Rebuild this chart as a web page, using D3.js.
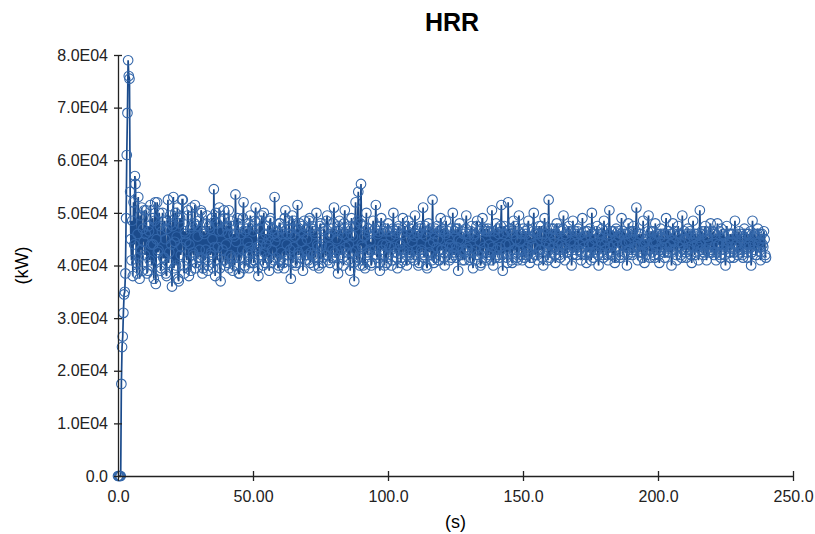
<!DOCTYPE html>
<html>
<head>
<meta charset="utf-8">
<script src="https://cdn.jsdelivr.net/npm/d3@7"></script>
<style>
  body { margin: 0; background: #fff; }
  text { font-family: "Liberation Sans", Arial, sans-serif; }
</style>
</head>
<body>
<div id="chart"></div>
<script>
// HRR output, sampled every 0.25 s from 0 to 240 s (kW)
const dt = 0.25;
const hrr = [
  0, 0, 0, 0, 0, 17500, 24500, 26500, 31000, 34500, 35000, 38500, 49000, 61000, 69000, 79000, 76000, 75500, 54000, 45000,
  41000, 48500, 38000, 52000, 44000, 57000, 55500, 40500, 38500, 46000, 53000, 41500, 37500, 49500, 43000, 51000, 39000, 47000, 44500, 50500,
  42000, 46000, 50500, 38500, 39000, 47500, 46500, 41000, 51500, 44000, 40000, 49000, 44000, 37500, 48500, 52000, 36500, 45000, 52000, 42500,
  43000, 50000, 47500, 39000, 39500, 46500, 50000, 41500, 41500, 48500, 45000, 38500, 38000, 47000, 52500, 40500, 42500, 49500, 48000, 44000,
  36000, 47500, 53000, 39500, 44500, 50000, 40000, 45500, 51000, 37500, 37000, 48000, 49000, 42000, 43500, 52500, 52500, 40000, 38500, 46500,
  46000, 44500, 41000, 49500, 50500, 38000, 44000, 47000, 39000, 51000, 47500, 42500, 42000, 48000, 51500, 39500, 40500, 47500, 45500, 41500,
  48500, 43000, 41500, 50500, 50000, 38500, 39500, 46500, 46000, 41000, 43000, 48000, 49500, 39000, 40000, 47500, 47000, 42000, 42500, 49000,
  45000, 39500, 54500, 43500, 38000, 50000, 48000, 41000, 43500, 46500, 51000, 39500, 37000, 48500, 46500, 43000, 41000, 50500, 49000, 40000,
  44000, 47500, 40500, 46000, 50500, 39500, 42000, 48500, 47500, 41500, 39000, 46000, 45500, 40000, 53500, 44500, 41500, 49000, 48000, 38500,
  38500, 47000, 46000, 41500, 43000, 49000, 52000, 39500, 40000, 46500, 47000, 42500, 44500, 48000, 39500, 43500, 49500, 40500, 42500, 47500,
  46500, 40500, 41000, 48500, 51000, 43000, 43500, 39500, 38000, 47000, 48500, 44000, 42000, 49500, 45000, 40000, 50000, 42500, 40500, 46000,
  44000, 41500, 47500, 45000, 39000, 48500, 49000, 40500, 43000, 47000, 46000, 41000, 53000, 44500, 41500, 46500, 45500, 39500, 40000, 48000,
  48000, 41000, 42500, 47000, 46000, 40500, 39500, 49000, 50500, 42000, 44000, 46000, 41000, 48500, 47000, 43000, 37500, 46000, 49500, 40500,
  43500, 48500, 45500, 40000, 40500, 47000, 51500, 42500, 42000, 48000, 46500, 41500, 44500, 47500, 39000, 46000, 48500, 41000, 43000, 47000,
  45000, 42000, 41000, 48500, 49000, 40500, 42500, 47000, 47500, 42000, 40000, 46500, 46000, 41500, 50000, 44000, 43500, 40000, 39500, 47500,
  48000, 43500, 44000, 40500, 41500, 47000, 46500, 42000, 42000, 48500, 49500, 41000, 45500, 43500, 40500, 46000, 47000, 41500, 43000, 48000,
  51000, 42500, 41500, 46500, 45000, 40000, 38500, 47500, 48500, 42000, 43000, 47000, 46000, 41500, 40000, 48000, 50500, 43500, 42500, 45500,
  47000, 41000, 44000, 47500, 39000, 46000, 49000, 42500, 45500, 40500, 37000, 47500, 52000, 43000, 41000, 48500, 54000, 41500, 40000, 48000,
  55500, 44000, 43500, 40000, 47500, 45500, 39500, 46500, 50000, 42500, 42000, 47000, 46000, 43000, 44500, 40000, 40500, 46500, 48500, 42000,
  43000, 47000, 51500, 42000, 41500, 46000, 46500, 40500, 39000, 47500, 49000, 43000, 44000, 46500, 42000, 40000, 47000, 44000, 40500, 46500,
  48000, 42000, 43500, 46500, 45500, 40000, 41000, 47000, 50000, 43500, 42500, 46000, 46500, 41500, 39500, 47000, 47500, 43000, 44000, 40500,
  41500, 46000, 49000, 42500, 43000, 47500, 45000, 41000, 40000, 46500, 48500, 42500, 42000, 47000, 46000, 41500, 44500, 47500, 41000, 45500,
  49500, 42000, 43000, 46500, 46000, 40000, 40500, 47000, 47500, 43000, 42500, 46000, 51000, 42000, 41500, 47500, 45500, 40000, 39500, 46500,
  48000, 42500, 44000, 47000, 42000, 41000, 52500, 44500, 40500, 46000, 47000, 41500, 43500, 47500, 45000, 41000, 41000, 46500, 49000, 43000,
  43000, 47000, 46500, 41500, 40000, 46000, 48500, 43500, 42500, 46500, 45000, 41000, 44000, 47000, 41500, 43500, 50000, 42500, 42000, 46500,
  47000, 41500, 43500, 47000, 39000, 45000, 48000, 42000, 44500, 46500, 41000, 43000, 46000, 41000, 42500, 47000, 49500, 43500, 43000, 46000,
  45500, 41000, 41500, 46500, 47500, 42500, 39500, 45500, 46000, 41000, 43000, 47500, 48500, 42000, 42000, 46500, 44500, 40000, 40500, 47000,
  49000, 42500, 43500, 47000, 46500, 41500, 41000, 46500, 47000, 42000, 44000, 46500, 42500, 41000, 50500, 43500, 40000, 46500, 45500, 41500,
  48000, 43000, 42000, 47000, 46000, 41500, 43500, 47500, 51500, 42000, 39000, 46000, 47500, 42500, 44000, 46500, 41500, 40500, 52000, 44000,
  42500, 47000, 46500, 41000, 40500, 46000, 48500, 43000, 43000, 47500, 45000, 41500, 41000, 46500, 49500, 43000, 44500, 46000, 42000, 41000,
  47000, 43000, 41500, 46500, 46000, 42000, 43500, 47000, 48500, 42500, 40500, 45500, 45000, 41500, 44000, 46500, 50000, 43500, 42000, 46000,
  46500, 42000, 41000, 46000, 47500, 43000, 43000, 47500, 45500, 41500, 40000, 46000, 49000, 43500, 44500, 47000, 42500, 41000, 52500, 44000,
  41500, 46000, 47000, 42500, 43500, 47000, 45000, 42000, 40500, 46000, 48000, 43000, 44000, 47000, 42000, 41500, 46500, 44000, 43000, 47000,
  49500, 43500, 41000, 46000, 45500, 42500, 42500, 46500, 47500, 43000, 44500, 46500, 40000, 42000, 48500, 44000, 43000, 46500, 46000, 42000,
  42000, 46500, 47000, 43000, 44000, 46000, 41000, 42500, 49000, 44500, 43500, 46500, 45500, 42000, 40500, 46500, 46500, 42500, 44000, 47000,
  42500, 41000, 50000, 44000, 41500, 46000, 45000, 42500, 43000, 46500, 47500, 42000, 40000, 45500, 46000, 42500, 44500, 47000, 42000, 41500,
  48500, 44000, 43000, 46500, 45000, 42000, 41000, 46000, 50500, 43500, 42500, 46500, 46500, 42000, 44000, 46500, 40500, 41500, 47000, 44500,
  43500, 46500, 45500, 42000, 41500, 46000, 49000, 44000, 42000, 46500, 46000, 42500, 44500, 46000, 40000, 42000, 48000, 44500, 43000, 46500,
  45500, 42500, 42000, 46500, 47500, 43000, 43500, 46500, 51000, 43500, 41000, 45500, 46000, 42500, 44000, 46000, 42500, 41500, 48500, 44000,
  40500, 44500, 45000, 42000, 43000, 46500, 49500, 43000, 41500, 45500, 46500, 42500, 44500, 46500, 42000, 41500, 48000, 44500, 43000, 46000,
  46000, 42000, 40500, 45500, 47000, 43000, 43500, 46000, 45000, 42500, 41500, 46000, 49000, 43500, 42500, 46500, 46500, 42500, 44000, 46000,
  40000, 43000, 48000, 44500, 43000, 46500, 45500, 42000, 41000, 46000, 47500, 43500, 44500, 46000, 42000, 41500, 49500, 44000, 43000, 46500,
  45000, 42500, 41500, 46000, 47000, 43000, 43500, 46500, 46000, 42000, 40500, 45500, 48500, 43500, 42000, 46000, 45500, 42500, 44000, 46000,
  41000, 43500, 50500, 44000, 43000, 46500, 46000, 42000, 42500, 46500, 47500, 43000, 41000, 45500, 45000, 42500, 44000, 46500, 48000, 43000,
  42500, 46000, 46500, 42000, 43500, 46000, 41000, 42500, 48000, 44000, 44000, 46500, 42000, 41500, 47000, 44000, 43000, 46000, 45500, 42000,
  40000, 44000, 47500, 43500, 44500, 46000, 42500, 41500, 46000, 44500, 43500, 46000, 41500, 42500, 48500, 44000, 44000, 46000, 42000, 43500,
  46500, 42500, 43000, 46000, 45000, 42000, 41500, 45500, 47000, 43500, 44000, 46000, 42500, 41500, 46000, 44000, 43500, 46500, 40000, 42500,
  48500, 44000, 43000, 46000, 45500, 42000, 42000, 46000, 47000, 43500, 44500, 46000, 41000, 42500, 46000, 44000, 43500, 46500, 45000, 42000,
  41500
];
const data = hrr.map((v, i) => ({t: i * dt, v: v}));

const xTicks = [0, 50, 100, 150, 200, 250];
const xTickLabels = ["0.0", "50.00", "100.0", "150.0", "200.0", "250.0"];
const yTicks = [0, 10000, 20000, 30000, 40000, 50000, 60000, 70000, 80000];
const yTickLabels = ["0.0", "1.0E04", "2.0E04", "3.0E04", "4.0E04", "5.0E04", "6.0E04", "7.0E04", "8.0E04"];

const W = 815, H = 534;
const margin = {top: 55, right: 22, bottom: 58, left: 118},
    width = W - margin.left - margin.right,
    height = H - margin.top - margin.bottom;

const svg = d3.select("#chart")
    .append("svg")
    .attr("width", W)
    .attr("height", H);

const g = svg.append("g")
    .attr("transform", `translate(${margin.left}, ${margin.top})`);

const x = d3.scaleLinear().domain([0, 250]).range([0, width]);
const y = d3.scaleLinear().domain([0, 80000]).range([height, 0]);

// data line and markers first, axes on top
g.append("path")
    .datum(data)
    .attr("fill", "none")
    .attr("stroke", "#1b4b8c")
    .attr("stroke-width", 1.7)
    .attr("d", d3.line().x(d => x(d.t)).y(d => y(d.v)));

g.selectAll("circle.pt")
    .data(data)
    .join("circle")
    .attr("class", "pt")
    .attr("cx", d => x(d.t))
    .attr("cy", d => y(d.v))
    .attr("r", 4.8)
    .attr("fill", "none")
    .attr("stroke", "#3467aa")
    .attr("stroke-width", 1.1);

// axes: ticks cross the axis line
const xAxis = g.append("g")
    .attr("transform", `translate(0, ${height})`)
    .call(d3.axisBottom(x).tickValues(xTicks).tickSize(5).tickSizeOuter(0)
        .tickFormat((d, i) => xTickLabels[i]));
xAxis.selectAll(".tick line").attr("y1", -5);
xAxis.selectAll("text").attr("font-size", 16).attr("fill", "#222").attr("dy", "1em").attr("y", 10);

const yAxis = g.append("g")
    .call(d3.axisLeft(y).tickValues(yTicks).tickSize(4).tickSizeOuter(0)
        .tickFormat((d, i) => yTickLabels[i]));
yAxis.selectAll(".tick line").attr("x1", 4);
yAxis.selectAll("text").attr("font-size", 16).attr("fill", "#222").attr("x", -10);

svg.selectAll(".domain").attr("stroke", "#222").attr("stroke-width", 1.3);
svg.selectAll(".tick line").attr("stroke", "#222").attr("stroke-width", 1.3);

// title and axis labels
svg.append("text")
    .attr("x", 452).attr("y", 31)
    .attr("text-anchor", "middle")
    .attr("font-size", 25).attr("font-weight", "bold")
    .text("HRR");

svg.append("text")
    .attr("x", margin.left + x(125)).attr("y", 528)
    .attr("text-anchor", "middle")
    .attr("font-size", 18)
    .text("(s)");

svg.append("text")
    .attr("transform", `translate(28, ${margin.top + y(40000)}) rotate(-90)`)
    .attr("text-anchor", "middle")
    .attr("font-size", 18)
    .text("(kW)");
</script>
</body>
</html>
